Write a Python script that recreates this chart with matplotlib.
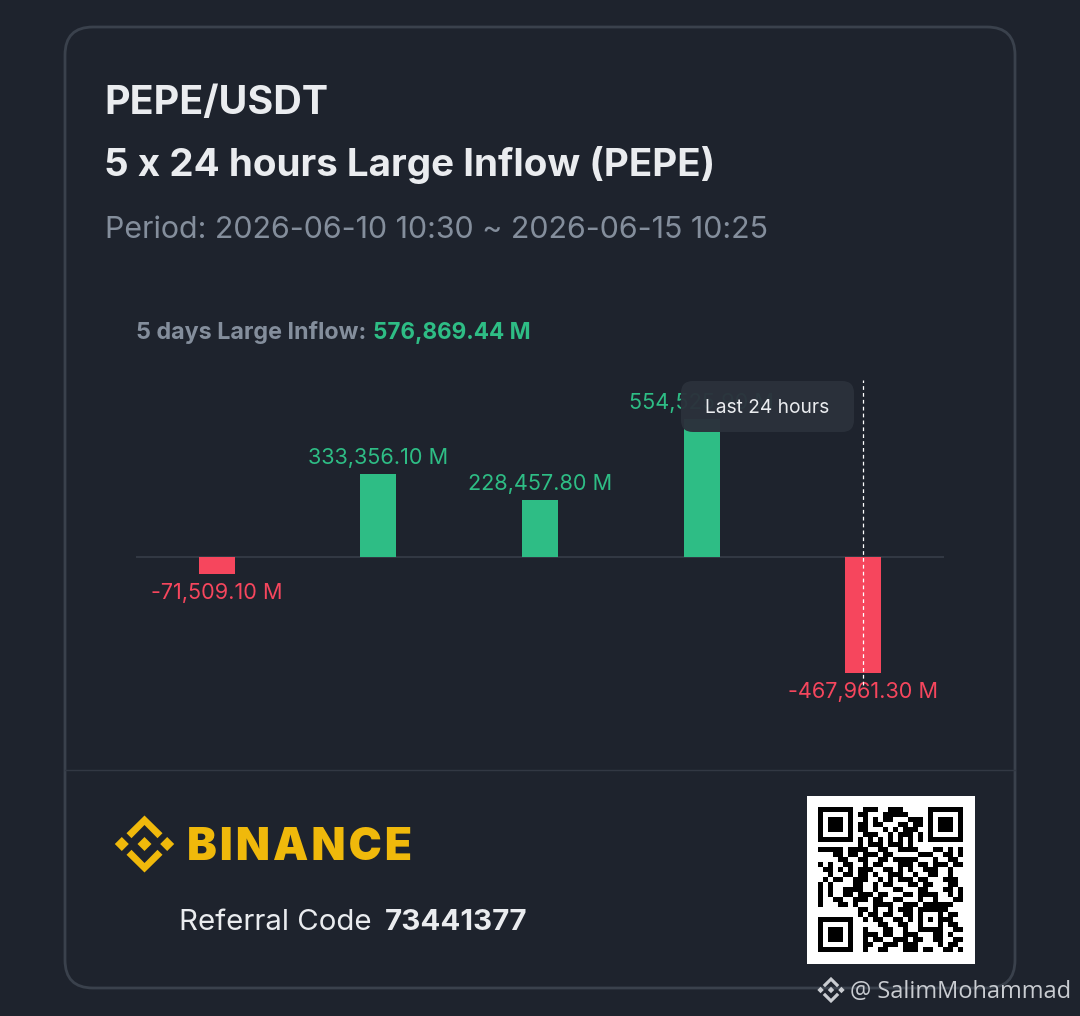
import numpy as np
import matplotlib
matplotlib.use("Agg")
import matplotlib.pyplot as plt
from matplotlib.patches import FancyBboxPatch, Polygon, Rectangle

# daily large inflow, in millions (4th label is hidden behind the tooltip)
days = [0, 1, 2, 3, 4]
inflow = [-71509.10, 333356.10, 228457.80, 554525.94, -467961.30]
labels = ["-71,509.10 M", "333,356.10 M", "228,457.80 M", "554,525.90 M", "-467,961.30 M"]

pair = "PEPE/USDT"
title = "5 x 24 hours Large Inflow (PEPE)"
period = "Period: 2026-06-10 10:30 ~ 2026-06-15 10:25"
total_label = "5 days Large Inflow:"
total_value = "576,869.44 M"
tooltip = "Last 24 hours"
brand = "\u200aB\u200aI\u200aN\u200aA\u200aN\u200aC\u200aE"
referral_label = "Referral Code"
referral_code = "73441377"
watermark = "@ SalimMohammad"

qr_rows = [
    "1111111 001110011100000 1111111",
    "1000001 011000111110000 1000001",
    "1011101 001010110001110 1011101",
    "1011101 011011000110110 1011101",
    "1011101 011000101011100 1011101",
    "1000001 001110010111010 1000001",
    "1111111 010101010101010 1111111",
    "00000000 1011101110100 00000000",
    "11111 01111 00110 01111 00011 0101",
    "00011 01101 11011 00000 11100 1101",
    "00001 10011 00110 11111 00010 0110",
    "10100 11001 01100 01110 11011 1011",
    "01101 01011 10011 01010 01110 0100",
    "00100 11011 01001 11001 00110 0100",
    "01011 00111 00101 01110 11000 1110",
    "10100 00110 01011 00011 01100 0110",
    "10100 11110 01000 11000 11000 1101",
    "10100 11011 10110 00110 11110 0101",
    "10011 00111 01100 11000 10010 0011",
    "10001 10100 01111 00111 01111 1100",
    "00000 00011 01001 01110 11111 1000",
    "00000 00010 11011 00110 10001 0110",
    "1111111 0010110011010 10101 1100",
    "1000001 0000011001100 10001 0110",
    "1011101 0010001100100 11111 0011",
    "1011101 0011101100111 00011 0100",
    "1011101 0010110011101 10011 0011",
    "1000001 0011001110111 00001 0110",
    "1111111 0010011000111 01100 1101",
]
qr = np.array([[int(c) for c in row.replace(" ", "")] for row in qr_rows])

BG = "#1e232d"
BORDER = "#3a414c"
GREEN = "#2ebd85"
RED = "#f6465d"
YELLOW = "#f0b90b"

W, H = 1080, 1016
plt.rcParams["font.family"] = ["Inter", "DejaVu Sans"]
fig = plt.figure(figsize=(W / 100, H / 100), dpi=100, facecolor=BG)


def pixel_axes(z):
    a = fig.add_axes([0, 0, 1, 1], zorder=z)
    a.set_xlim(0, W)
    a.set_ylim(H, 0)
    a.axis("off")
    return a


def binance_mark(a, cx, cy, s, color):
    for dx in (-22.7, 0, 22.7):
        a.add_patch(Polygon([(cx + dx * s, cy - 7 * s), (cx + (dx + 7) * s, cy),
                             (cx + dx * s, cy + 7 * s), (cx + (dx - 7) * s, cy)], color=color, lw=0))
    for sign in (-1, 1):
        pts = [(0, 28.5), (18, 10.8), (13, 5.8), (0, 19), (-13, 5.8), (-18, 10.8)]
        a.add_patch(Polygon([(cx + x * s, cy + sign * y * s) for x, y in pts], color=color, lw=0))


back = pixel_axes(0)
back.add_patch(FancyBboxPatch((65, 27), 950, 961, boxstyle="round,pad=0,rounding_size=28",
                              fc="none", ec=BORDER, lw=2))
back.plot([65, 1015], [769.5, 769.5], color="#323843", lw=1)

back.text(104, 114, pair, color="#eaecef", fontsize=28.4, fontweight="bold")
back.text(104, 176, title, color="#eaecef", fontsize=27.8, fontweight="bold")
back.text(105, 238, period, color="#848e9c", fontsize=21.9)
back.text(136, 339, total_label, color="#848e9c", fontsize=16.8, fontweight="bold")
back.text(373, 339, total_value, color=GREEN, fontsize=16.2, fontweight="bold")

# footer
binance_mark(back, 144.5, 844, 1, YELLOW)
back.text(184, 860, brand, color=YELLOW, fontsize=32, fontweight="black")
back.text(179, 930, referral_label, color="#eaecef", fontsize=21.2)
back.text(385, 930, referral_code, color="#eaecef", fontsize=21.2, fontweight="bold")

back.add_patch(Rectangle((807, 796), 168, 168, color="white", lw=0))
back.imshow(qr, cmap="gray_r", vmin=0, vmax=1, extent=(818, 963, 952, 807),
            interpolation="nearest", aspect="auto", zorder=3)
back.set_xlim(0, W)
back.set_ylim(H, 0)

# bars, zero line sits at y=556.5
px = 4030
ax = fig.add_axes([136 / W, 1 - 700 / H, 808 / W, 320 / H], zorder=1)
ax.patch.set_alpha(0)
ax.set_xlim(-0.5, 4.5)
ax.set_ylim(-(700 - 556.5) * px, (556.5 - 380) * px)
ax.axis("off")
colors = [GREEN if v > 0 else RED for v in inflow]
ax.axhline(0, color="#323843", lw=1.5, zorder=1)
ax.bar(days, inflow, width=36 / 161.6, color=colors, zorder=2)
for d, v, lab, c in zip(days, inflow, labels, colors):
    ax.annotate(lab, (d, v), xytext=(0, 4 if v > 0 else -6.5), textcoords="offset points",
                ha="center", va="bottom" if v > 0 else "top", color=c, fontsize=15.6)
ax.axvline(4, ymin=0.047, ymax=1, color="white", lw=0.9, ls=(0, (3, 2.5)), zorder=3)

# tooltip on top of everything
top = pixel_axes(2)
top.add_patch(FancyBboxPatch((681, 381), 173, 51, boxstyle="round,pad=0,rounding_size=12",
                             fc="#2b313b", ec="none", alpha=0.96))
top.text(767, 408, tooltip, color="#eaecef", fontsize=13.8, ha="center", va="center")

# watermark
binance_mark(top, 831, 990, 0.46, "#c9ccd1")
top.text(850, 998, watermark, color="#c9ccd1", fontsize=17, family="Open Sans")

fig.savefig("out.png", dpi=100, facecolor=BG)
